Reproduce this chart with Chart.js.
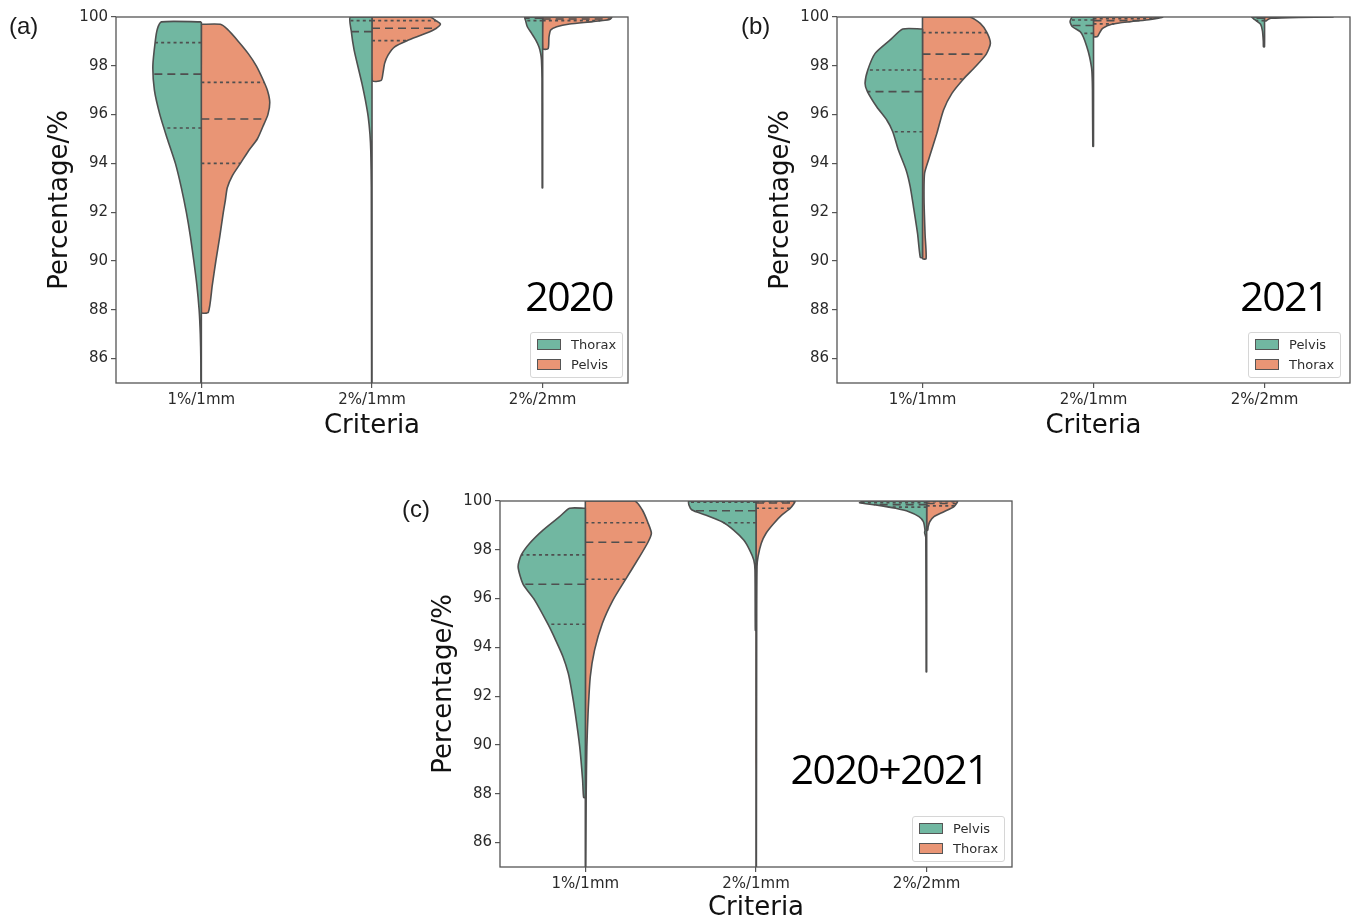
<!DOCTYPE html>
<html>
<head>
<meta charset="utf-8">
<script src="https://cdn.jsdelivr.net/npm/chart.js@4.4.1/dist/chart.umd.min.js"></script>
<style>
  html, body { margin: 0; padding: 0; background: #fff; }
  body { width: 1354px; height: 924px; position: relative; overflow: hidden; font-family: "DejaVu Sans", sans-serif; }
  canvas { position: absolute; }
  .tag { position: absolute; font-family: "Liberation Sans", Arial, sans-serif; font-size: 24px; color: #1a1a1a; line-height: 1; }
  .year { position: absolute; font-family: "Open Sans", sans-serif; font-size: 41px; font-weight: 500; letter-spacing: -1.5px; color: #000; line-height: 1; text-align: right; white-space: nowrap; }
  .legend { position: absolute; width: 93px; height: 46px; border: 1px solid #d6d6d6; border-radius: 3px; background: rgba(255,255,255,0.85); box-sizing: border-box; }
  .legend .row { position: absolute; left: 6px; height: 14px; display: flex; align-items: center; font-size: 13px; color: #2e2e2e; white-space: nowrap; }
  .legend .sw { width: 24px; height: 11px; border: 1px solid #555; box-sizing: border-box; margin-right: 10px; }
</style>
</head>
<body>
<canvas id="c2020" width="640" height="445" style="left:0px;top:0px;"></canvas>
<canvas id="c2021" width="633" height="445" style="left:721px;top:0px;"></canvas>
<canvas id="cAll" width="640" height="440" style="left:384px;top:484px;"></canvas>

<div class="tag" style="left:9px;top:14px;">(a)</div>
<div class="tag" style="left:741px;top:14px;">(b)</div>
<div class="tag" style="left:402px;top:497px;">(c)</div>

<div class="year" style="left:413px;width:200px;top:275px;">2020</div>
<div class="year" style="left:1128px;width:200px;top:275px;">2021</div>
<div class="year" style="left:688px;width:300px;top:748px;">2020+2021</div>

<div class="legend" style="left:530px;top:332px;">
  <div class="row" style="top:4px;"><span class="sw" style="background:#71b7a1"></span>Thorax</div>
  <div class="row" style="top:24px;"><span class="sw" style="background:#e99575"></span>Pelvis</div>
</div>
<div class="legend" style="left:1248px;top:332px;">
  <div class="row" style="top:4px;"><span class="sw" style="background:#71b7a1"></span>Pelvis</div>
  <div class="row" style="top:24px;"><span class="sw" style="background:#e99575"></span>Thorax</div>
</div>
<div class="legend" style="left:912px;top:816px;">
  <div class="row" style="top:4px;"><span class="sw" style="background:#71b7a1"></span>Pelvis</div>
  <div class="row" style="top:24px;"><span class="sw" style="background:#e99575"></span>Thorax</div>
</div>

<script>
// Gamma passing rates (%) per criterion, shown as split violins.
const criteria = ['1%/1mm', '2%/1mm', '2%/2mm'];
const percentTicks = [86, 88, 90, 92, 94, 96, 98, 100];

// Density outlines: [percentage, half-width of the violin in category units], top to bottom.
// 2020 — left halves: Thorax, right halves: Pelvis
const thorax2020 = [
  [[99.8,0.234],[99.5,0.258],[99.0,0.270],[98.0,0.284],[97.0,0.275],[96.0,0.243],[95.0,0.199],[94.0,0.152],[93.0,0.117],[92.0,0.088],[91.0,0.064],[90.0,0.044],[89.0,0.026],[88.0,0.013],[87.0,0.006],[86.0,0.003],[84.0,0.002]],
  [[100.0,0.127],[99.4,0.121],[98.65,0.105],[97.96,0.082],[97.28,0.059],[96.6,0.039],[95.9,0.022],[95.2,0.012],[94.5,0.007],[93.0,0.004],[84.0,0.002]],
  [[100.0,0.104],[99.85,0.100],[99.6,0.090],[99.32,0.064],[99.06,0.041],[98.78,0.022],[98.51,0.012],[98.24,0.007],[97.5,0.004],[93.0,0.003]]
];
const pelvis2020 = [
  [[99.7,0.111],[99.5,0.152],[99.0,0.217],[98.5,0.275],[98.0,0.322],[97.5,0.357],[97.0,0.387],[96.5,0.401],[96.0,0.390],[95.5,0.360],[95.0,0.328],[94.5,0.275],[94.0,0.229],[93.5,0.182],[93.0,0.152],[92.5,0.141],[92.0,0.129],[91.0,0.108],[90.0,0.085],[89.0,0.064],[87.9,0.041]],
  [[100.0,0.340],[99.85,0.375],[99.71,0.401],[99.53,0.375],[99.33,0.316],[99.03,0.205],[98.78,0.133],[98.44,0.094],[98.1,0.074],[97.69,0.064],[97.4,0.054]],
  [[100.0,0.404],[99.9,0.393],[99.81,0.293],[99.71,0.158],[99.6,0.082],[99.47,0.047],[99.18,0.037],[98.7,0.032]]
];
// quartiles per criterion: [Q1, median, Q3] (null = not shown)
const thorax2020Quartiles = [[95.45, 97.66, 98.95], [null, 99.4, 99.85], [99.85, 99.95, null]];
const pelvis2020Quartiles = [[94.0, 95.82, 97.32], [99.03, 99.54, 99.85], [99.85, 99.92, null]];

// 2021 — left halves: Pelvis, right halves: Thorax
const pelvis2021 = [
  [[99.51,0.115],[99.06,0.189],[98.51,0.277],[97.83,0.320],[97.28,0.336],[96.94,0.322],[96.32,0.268],[95.78,0.209],[95.3,0.174],[94.55,0.141],[93.73,0.096],[93.05,0.072],[92.23,0.053],[91.13,0.029],[90.15,0.013]],
  [[100.0,0.123],[99.81,0.137],[99.6,0.123],[99.4,0.078],[99.19,0.060],[98.78,0.039],[98.37,0.023],[97.83,0.010],[97.0,0.006],[94.7,0.004]],
  [[100.0,0.074],[99.9,0.059],[99.7,0.023],[99.43,0.012],[99.0,0.007],[98.78,0.006]]
];
const thorax2021 = [
  [[100.0,0.275],[99.74,0.338],[99.36,0.377],[98.92,0.397],[98.48,0.373],[97.96,0.309],[97.46,0.240],[96.87,0.172],[96.19,0.123],[95.23,0.084],[94.27,0.041],[93.59,0.012],[92.5,0.009],[91.1,0.015],[90.1,0.021]],
  [[100.0,0.404],[99.9,0.334],[99.81,0.217],[99.71,0.111],[99.53,0.053],[99.32,0.033],[99.2,0.023]],
  [[100.0,0.400],[99.985,0.200],[99.95,0.040],[99.9,0.020],[99.85,0.012]]
];
const pelvis2021Quartiles = [[95.3, 96.94, 97.83], [99.33, 99.65, 99.88], [99.85, 99.95, null]];
const thorax2021Quartiles = [[97.46, 98.48, 99.36], [99.72, 99.85, 99.93], [null, null, null]];

// 2020+2021 — left halves: Pelvis, right halves: Thorax
const pelvisAll = [
  [[99.7,0.092],[99.36,0.151],[98.81,0.248],[98.27,0.326],[97.79,0.375],[97.31,0.394],[96.59,0.365],[95.94,0.297],[94.95,0.219],[94.3,0.174],[93.62,0.131],[92.94,0.100],[92.3,0.082],[91.3,0.059],[89.93,0.033],[88.57,0.016],[87.85,0.010]],
  [[100.0,0.393],[99.84,0.393],[99.63,0.375],[99.43,0.296],[99.15,0.199],[98.81,0.131],[98.4,0.072],[97.99,0.037],[97.58,0.013],[97.17,0.006],[94.7,0.004]],
  [[100.0,0.363],[99.93,0.393],[99.84,0.299],[99.7,0.182],[99.56,0.104],[99.36,0.045],[99.15,0.019],[98.81,0.010],[98.7,0.012],[98.5,0.005],[93.0,0.003]]
];
const thoraxAll = [
  [[100.0,0.289],[99.63,0.334],[99.11,0.367],[98.68,0.387],[98.31,0.367],[97.72,0.318],[96.79,0.236],[95.94,0.162],[94.99,0.100],[93.89,0.054],[92.8,0.029],[91.3,0.016],[89.93,0.009],[88.0,0.005],[84.0,0.002]],
  [[100.0,0.227],[99.7,0.201],[99.43,0.152],[99.08,0.104],[98.68,0.059],[98.27,0.031],[97.72,0.012],[97.31,0.006],[95.0,0.004],[84.0,0.002]],
  [[100.0,0.180],[99.77,0.160],[99.56,0.101],[99.36,0.043],[99.15,0.018],[98.95,0.009],[98.8,0.006]]
];
const pelvisAllQuartiles = [[94.95, 96.59, 97.79], [99.11, 99.6, 99.95], [99.75, 99.85, 99.93]];
const thoraxAllQuartiles = [[96.79, 98.31, 99.11], [99.7, 99.92, 99.97], [99.8, 99.9, 99.97]];

const GREEN = '#71b7a1';
const ORANGE = '#e99575';
const EDGE = '#4f4f4f';

// polygon of one violin half: along the density edge, back up the centre line
function halfShape(center, profile, side) {
  const top = profile[0][0];
  const bottom = profile[profile.length - 1][0];
  const pts = [{ x: center, y: top }];
  profile.forEach(([v, w]) => pts.push({ x: center + side * w, y: v }));
  pts.push({ x: center, y: bottom });
  pts.push({ x: center, y: top });
  return pts;
}

function widthAt(profile, v) {
  for (let i = 0; i < profile.length - 1; i++) {
    const [v0, w0] = profile[i];
    const [v1, w1] = profile[i + 1];
    if (v <= v0 && v >= v1) {
      const t = v0 === v1 ? 0 : (v0 - v) / (v0 - v1);
      return w0 + t * (w1 - w0);
    }
  }
  return 0;
}

function buildDatasets(leftSet, rightSet, leftQ, rightQ) {
  const ds = [];
  const halves = [[leftSet, leftQ, -1, GREEN], [rightSet, rightQ, 1, ORANGE]];
  criteria.forEach((c, i) => {
    halves.forEach(([set, qs, side, color]) => {
      ds.push({
        data: halfShape(i, set[i], side),
        borderColor: EDGE, borderWidth: 1.6, borderJoinStyle: 'round',
        backgroundColor: color, fill: 'shape', pointRadius: 0, tension: 0.22, order: 2
      });
      qs[i].forEach((q, k) => {
        if (q === null) return;
        const w = widthAt(set[i], q);
        ds.push({
          data: [{ x: i, y: q }, { x: i + side * w, y: q }],
          borderColor: EDGE, borderWidth: 1.6, fill: false, pointRadius: 0, tension: 0,
          borderDash: k === 1 ? [8, 5] : [3, 3.2], order: 1
        });
      });
    });
  });
  return ds;
}

const frame = {
  id: 'frame',
  afterDatasetsDraw(chart) {
    const { ctx, chartArea: a } = chart;
    ctx.save();
    ctx.strokeStyle = '#555';
    ctx.lineWidth = 1.3;
    ctx.strokeRect(a.left, a.top, a.right - a.left, a.bottom - a.top);
    ctx.restore();
  }
};

function makeChart(id, datasets, padRight, xHeight, xTitlePad) {
  const tickFont = { family: 'DejaVu Sans', size: 15 };
  const titleFont = { family: 'DejaVu Sans', size: 26, lineHeight: 1.2 };
  const grid = { display: true, drawOnChartArea: false, drawTicks: true, tickLength: 5, color: '#555', lineWidth: 1.2 };
  new Chart(document.getElementById(id), {
    type: 'line',
    data: { datasets },
    options: {
      responsive: false, animation: false, devicePixelRatio: 1,
      layout: { padding: { top: 17, right: padRight, left: 0, bottom: 0 } },
      plugins: { legend: { display: false }, tooltip: { enabled: false } },
      scales: {
        x: {
          type: 'linear', min: -0.5, max: 2.5,
          afterBuildTicks: s => { s.ticks = criteria.map((_, i) => ({ value: i })); },
          ticks: { callback: v => criteria[v], font: tickFont, color: '#2a2a2a', padding: 3, maxRotation: 0, autoSkip: false },
          grid, border: { display: false },
          title: { display: true, text: 'Criteria', font: titleFont, color: '#111', padding: { top: 0, bottom: xTitlePad } },
          afterFit: s => { s.height = xHeight; }
        },
        y: {
          type: 'linear', min: 85, max: 100,
          afterBuildTicks: s => { s.ticks = percentTicks.map(v => ({ value: v })); },
          ticks: { callback: v => String(v), font: tickFont, color: '#2a2a2a', padding: 3 },
          grid, border: { display: false },
          title: { display: true, text: 'Percentage/%', font: titleFont, color: '#111', padding: { top: 45, bottom: 0 } },
          afterFit: s => { s.width = 116; }
        }
      }
    },
    plugins: [frame]
  });
}

makeChart('c2020', buildDatasets(thorax2020, pelvis2020, thorax2020Quartiles, pelvis2020Quartiles), 12, 62, 3);
makeChart('c2021', buildDatasets(pelvis2021, thorax2021, pelvis2021Quartiles, thorax2021Quartiles), 4, 62, 3);
makeChart('cAll', buildDatasets(pelvisAll, thoraxAll, pelvisAllQuartiles, thoraxAllQuartiles), 12, 57, 0.5);
</script>
</body>
</html>
